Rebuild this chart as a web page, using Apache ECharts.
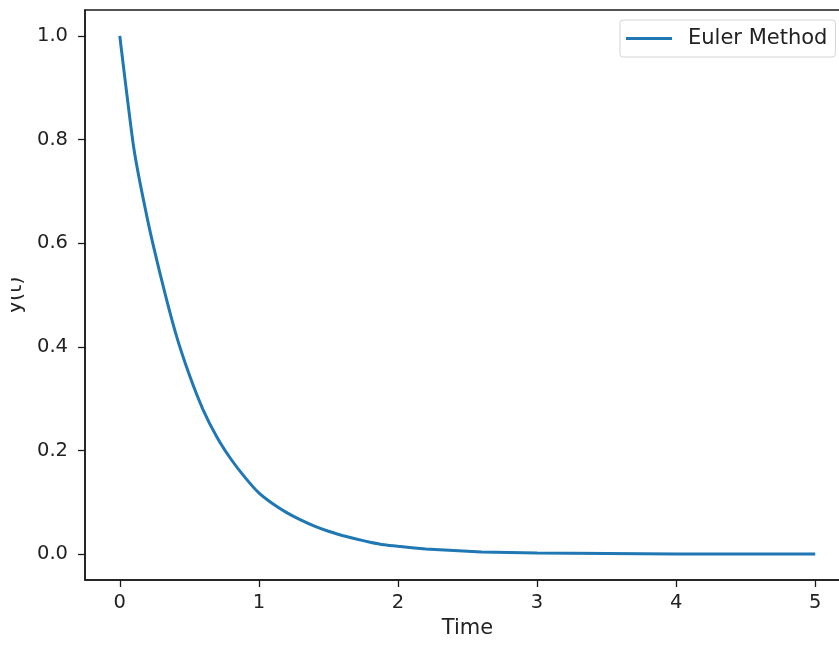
<!DOCTYPE html>
<html>
<head>
<meta charset="utf-8">
<script src="https://cdn.jsdelivr.net/npm/echarts@6/dist/echarts.min.js"></script>
<style>
  html, body { margin: 0; padding: 0; background: #fff; }
  #chart { width: 839px; height: 646px; }
</style>
</head>
<body>
<div id="chart"></div>
<script>
// values
var times = [0, 0.1, 0.2, 0.3, 0.4, 0.5, 0.6, 0.7, 0.8, 0.9, 1.0,
  1.1, 1.2, 1.3, 1.4, 1.5, 1.6, 1.7, 1.8, 1.9, 2.0,
  2.2, 2.4, 2.6, 2.8, 3.0, 3.5, 4.0, 4.5, 5.0];
var eulerValues = [1.0, 0.785, 0.645, 0.53, 0.428, 0.346, 0.278, 0.225, 0.183, 0.148, 0.118,
  0.097, 0.080, 0.066, 0.054, 0.044, 0.036, 0.029, 0.023, 0.018, 0.015,
  0.010, 0.007, 0.004, 0.003, 0.002, 0.001, 0.0, 0.0, 0.0];
var xTicks = [0, 1, 2, 3, 4, 5];
var yTicks = [0, 0.2, 0.4, 0.6, 0.8, 1.0];

var font = "DejaVu Sans";
var tickSize = 19.5;
var labelSize = 21;
var chart = echarts.init(document.getElementById("chart"));

chart.setOption({
  backgroundColor: "#ffffff",
  animation: false,
  textStyle: { fontFamily: font },
  grid: {
    left: 85,
    top: 10,
    width: 765,
    height: 570,
    outerBoundsMode: "none",
    containLabel: false,
    show: true,
    borderColor: "#1a1a1a",
    borderWidth: 1.5,
    backgroundColor: "transparent"
  },
  // the y label is cut off at the left edge in the original figure
  graphic: [{
    type: "rect",
    left: 0,
    top: 240,
    shape: { width: 11, height: 120 },
    style: { fill: "#ffffff" },
    z: 100
  }],
  legend: {
    left: 620,
    top: 20,
    data: ["Euler Method"],
    icon: "rect",
    itemWidth: 46,
    itemHeight: 3,
    padding: [8, 8, 8, 6],
    borderColor: "#d5d5d5",
    borderWidth: 1,
    borderRadius: 3,
    textStyle: {
      fontFamily: font,
      fontSize: labelSize,
      color: "#222",
      padding: [0, 0, 0, 11]
    }
  },
  xAxis: {
    type: "value",
    min: -0.25,
    max: 5.25,
    name: "Time",
    nameLocation: "middle",
    nameGap: 37,
    nameTextStyle: { fontFamily: font, fontSize: labelSize, color: "#222" },
    splitLine: { show: false },
    axisLine: { show: true, onZero: false, lineStyle: { color: "#1a1a1a", width: 1.5 } },
    axisTick: { show: true, length: 7, customValues: xTicks, lineStyle: { color: "#1a1a1a", width: 1.3 } },
    axisLabel: {
      customValues: xTicks,
      margin: 13,
      fontFamily: font,
      fontSize: tickSize,
      color: "#222"
    }
  },
  yAxis: {
    type: "value",
    min: -0.05,
    max: 1.05,
    name: "y(t)",
    nameLocation: "middle",
    nameGap: 54,
    nameRotate: 90,
    nameTextStyle: { fontFamily: font, fontSize: labelSize, color: "#222" },
    splitLine: { show: false },
    axisLine: { show: true, onZero: false, lineStyle: { color: "#1a1a1a", width: 1.5 } },
    axisTick: { show: true, length: 7, customValues: yTicks, lineStyle: { color: "#1a1a1a", width: 1.3 } },
    axisLabel: {
      customValues: yTicks,
      margin: 17,
      fontFamily: font,
      fontSize: tickSize,
      color: "#222",
      formatter: function (v) { return v.toFixed(1); }
    }
  },
  series: [
    {
      name: "Euler Method",
      type: "line",
      showSymbol: false,
      symbol: "none",
      smooth: 0.15,
      lineStyle: { color: "#1f77b4", width: 3 },
      itemStyle: { color: "#1f77b4" },
      data: times.map(function (t, i) { return [t, eulerValues[i]]; })
    }
  ]
});
</script>
</body>
</html>
